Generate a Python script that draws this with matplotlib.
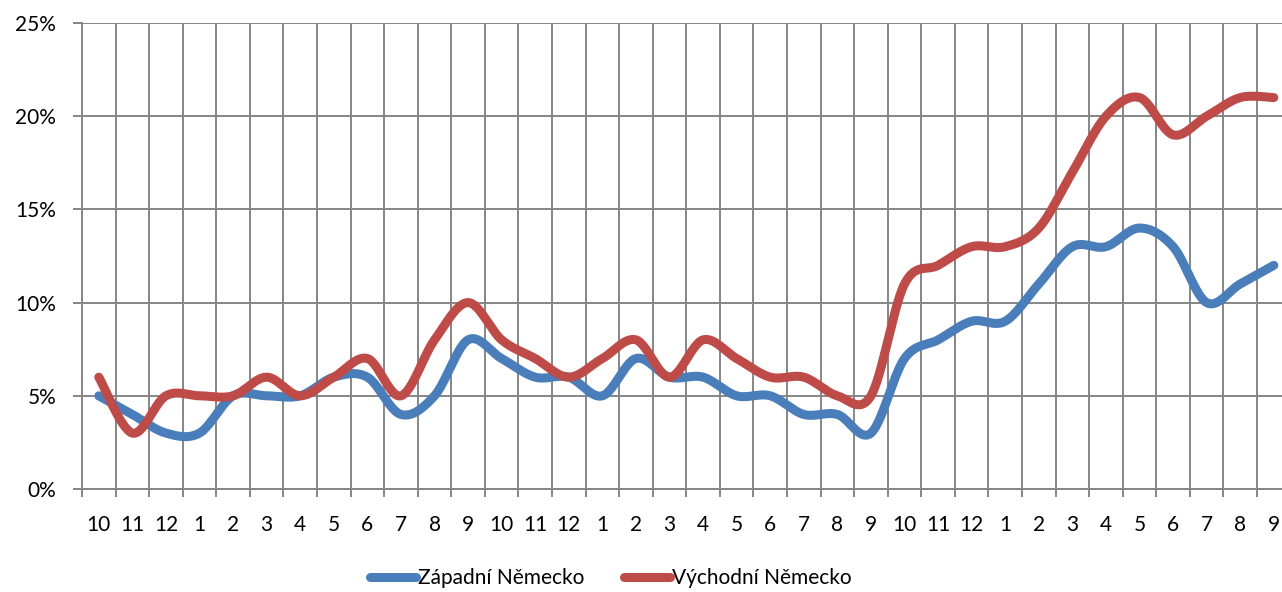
import numpy as np
import matplotlib
matplotlib.use("Agg")
import matplotlib.pyplot as plt
from matplotlib.ticker import FixedLocator, FuncFormatter

months = ['10', '11', '12', '1', '2', '3', '4', '5', '6', '7', '8', '9',
          '10', '11', '12', '1', '2', '3', '4', '5', '6', '7', '8', '9',
          '10', '11', '12', '1', '2', '3', '4', '5', '6', '7', '8', '9']

# unemployment rate, %
zapad = [5, 4, 3, 3, 5, 5, 5, 6, 6, 4, 5, 8,
         7, 6, 6, 5, 7, 6, 6, 5, 5, 4, 4, 3,
         7, 8, 9, 9, 11, 13, 13, 14, 13, 10, 11, 12]
vychod = [6, 3, 5, 5, 5, 6, 5, 6, 7, 5, 8, 10,
          8, 7, 6, 7, 8, 6, 8, 7, 6, 6, 5, 5,
          11, 12, 13, 13, 14, 17, 20, 21, 19, 20, 21, 21]

labels = ['Západní Německo', 'Východní Německo']
colors = ['#4A7EBB', '#BE4B48']


def smooth(y, n=30):
    # Excel-like smoothed line: bezier segments, control points from neighbours
    y = np.asarray(y, dtype=float)
    x = np.arange(len(y), dtype=float)
    xs, ys = [], []
    for i in range(len(y) - 1):
        x0, y0 = (x[i - 1], y[i - 1]) if i > 0 else (x[i], y[i])
        x3, y3 = (x[i + 2], y[i + 2]) if i + 2 < len(y) else (x[i + 1], y[i + 1])
        c1x = x[i] + (x[i + 1] - x0) / 6
        c1y = y[i] + (y[i + 1] - y0) / 6
        c2x = x[i + 1] - (x3 - x[i]) / 6
        c2y = y[i + 1] - (y3 - y[i]) / 6
        t = np.linspace(0, 1, n)
        b0, b1, b2, b3 = (1 - t) ** 3, 3 * t * (1 - t) ** 2, 3 * t ** 2 * (1 - t), t ** 3
        xs.append(b0 * x[i] + b1 * c1x + b2 * c2x + b3 * x[i + 1])
        ys.append(b0 * y[i] + b1 * c1y + b2 * c2y + b3 * y[i + 1])
    return np.concatenate(xs), np.concatenate(ys)


plt.rcParams['font.family'] = ['Lato', 'DejaVu Sans']

fig = plt.figure(figsize=(12.82, 5.92), dpi=100)
ax = fig.add_axes([82 / 1282, 1 - 489 / 592, 1208.6 / 1282, 466 / 592])

grid = '#868686'
for data, lab, col in zip([zapad, vychod], labels, colors):
    sx, sy = smooth(data)
    ax.plot(sx, sy, color=col, lw=6.5, solid_capstyle='round', label=lab, zorder=3)

ax.set_xlim(-0.5, len(months) - 0.5)
ax.set_ylim(0, 25)
ax.set_yticks([0, 5, 10, 15, 20, 25])
ax.yaxis.set_major_formatter(FuncFormatter(lambda v, p: f'{v:.0f}%'))
ax.set_xticks(range(len(months)))
ax.set_xticklabels(months)
ax.xaxis.set_minor_locator(FixedLocator(np.arange(-0.5, len(months), 1)))

ax.grid(axis='y', which='major', color=grid, lw=1.4)
ax.grid(axis='x', which='minor', color=grid, lw=1.4)
ax.tick_params(axis='x', which='major', length=0, pad=19, labelsize=15)
ax.tick_params(axis='x', which='minor', length=6, width=1.4, color=grid)
ax.tick_params(axis='y', length=6.5, width=1.4, color=grid, pad=12, labelsize=15)
for s in ['top', 'right']:
    ax.spines[s].set_visible(False)
ax.spines['left'].set_color(grid)
ax.spines['left'].set_linewidth(1.4)
ax.spines['bottom'].set_color(grid)
ax.spines['bottom'].set_linewidth(1.4)
ax.set_axisbelow(True)

fig.legend(loc='center', bbox_to_anchor=(611 / 1282, 1 - 578 / 592), ncol=2, frameon=False,
           fontsize=15, handlelength=2.2, handletextpad=0.1, columnspacing=1.9)

fig.savefig('out.png', dpi=100)
